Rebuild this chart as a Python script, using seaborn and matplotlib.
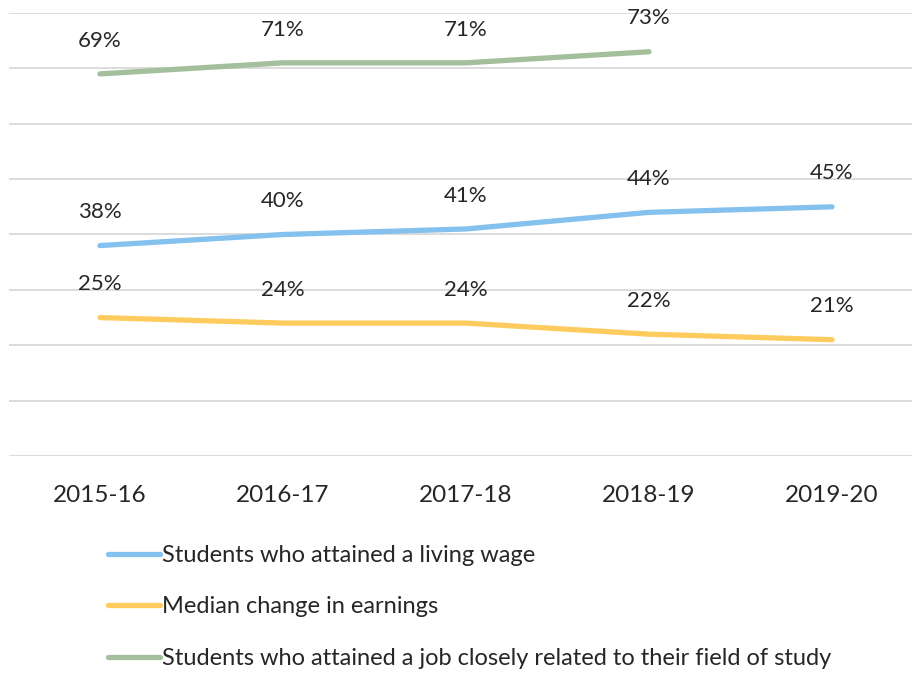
import numpy as np
import pandas as pd
import matplotlib
matplotlib.use("Agg")
import matplotlib.pyplot as plt
import seaborn as sns

years = ["2015-16", "2016-17", "2017-18", "2018-19", "2019-20"]
living_wage = [38, 40, 41, 44, 45]
earnings = [25, 24, 24, 22, 21]
related_job = [69, 71, 71, 73, None]

series_names = [
    "Students who attained a living wage",
    "Median change in earnings",
    "Students who attained a job closely related to their field of study",
]
colors = ["#85C1EE", "#FECB5E", "#A3BF9B"]

sns.set_theme(style="white")
plt.rcParams["font.family"] = ["Lato", "DejaVu Sans"]

rows = []
for name, vals in zip(series_names, [living_wage, earnings, related_job]):
    for i, (yr, v) in enumerate(zip(years, vals)):
        if v is not None:
            rows.append({"year": yr, "x": i, "value": v, "series": name})
df = pd.DataFrame(rows)

fig = plt.figure(figsize=(9.14, 6.73), dpi=100)
ax = fig.add_axes([9/914, (673-456)/673, (912-9)/914, (456-13)/673])

sns.lineplot(data=df, x="x", y="value", hue="series", hue_order=series_names,
             palette=colors, linewidth=3.8, ax=ax, legend=True,
             solid_capstyle="round")

ax.set_ylim(0, 80)
ax.set_xlim(-0.497, 4.437)
ax.set_yticks(np.arange(0, 81, 10))
ax.set_yticklabels([])
ax.tick_params(axis="y", length=0)
ax.grid(axis="y", color="#d9d9d9", linewidth=1.3)
ax.set_axisbelow(True)
for s in ax.spines.values():
    s.set_visible(False)
ax.set_xticks(range(len(years)))
ax.set_xticklabels(years, fontsize=17.5, color="#262626")
ax.tick_params(axis="x", length=0, pad=21)
ax.set_xlabel("")
ax.set_ylabel("")

for _, r in df.iterrows():
    ax.annotate(f"{int(r['value'])}%", (r["x"], r["value"]), xytext=(0, 24),
                textcoords="offset points", ha="center", va="center",
                fontsize=16, color="#262626")

handles, labels = ax.get_legend_handles_labels()
ax.legend_.remove()
leg = fig.legend(handles, labels, loc="upper left", bbox_to_anchor=(108/914, 1-545/673),
                 frameon=False, fontsize=17, handlelength=2.2, handletextpad=0.08,
                 labelspacing=1.29, borderpad=0, borderaxespad=0,
                 labelcolor="#262626")
for h in leg.get_lines():
    h.set_linewidth(3.8)

fig.savefig("out.png", dpi=100)
